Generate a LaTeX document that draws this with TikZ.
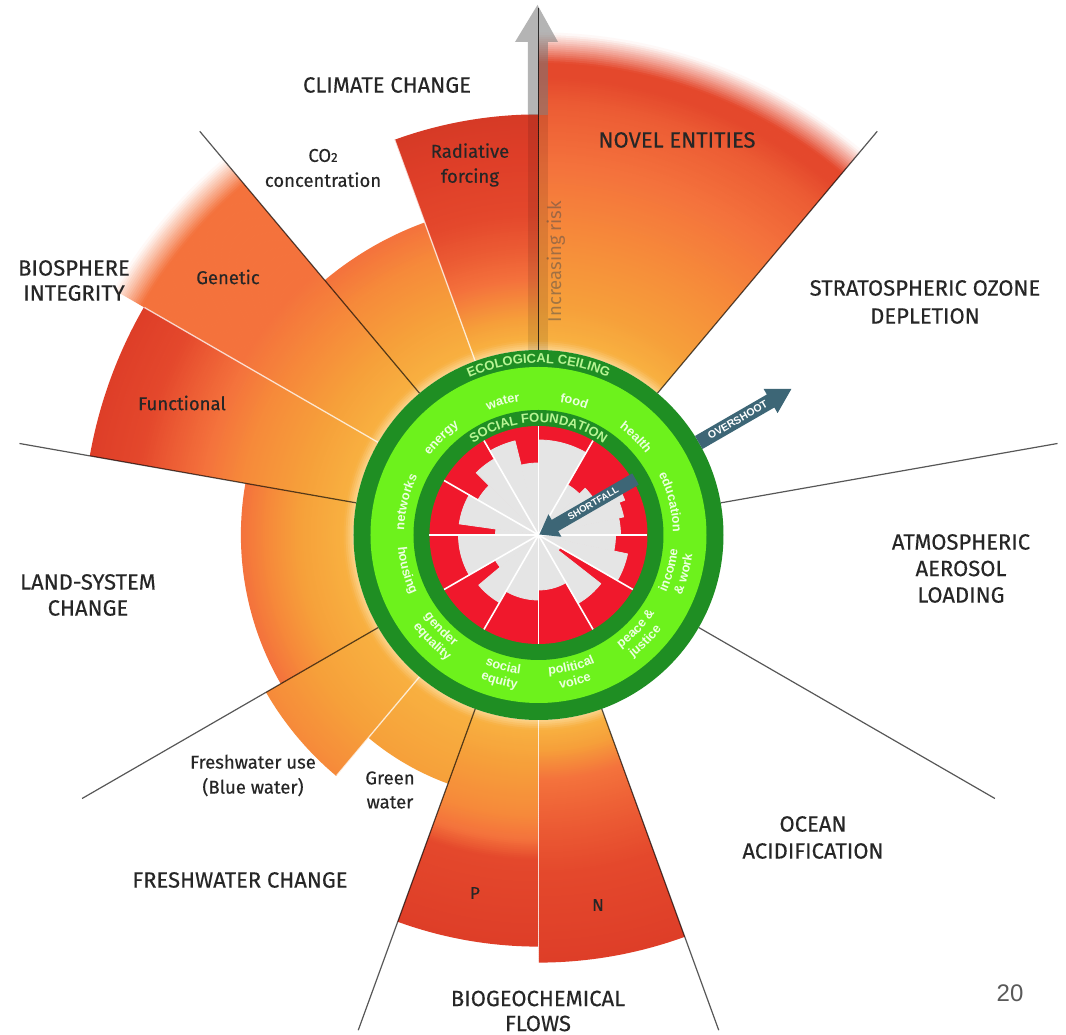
\documentclass[tikz,border=0pt]{standalone}
\usepackage{fontspec}
\setmainfont{Fira Sans}[FakeBold=0.35]
\newfontfamily\risktxt{Fira Sans}
\newfontfamily\libsans{Liberation Sans}
\usetikzlibrary{decorations.text}

\definecolor{cH}{HTML}{FCD38C}
\definecolor{cY}{HTML}{F8B040}
\definecolor{cA}{HTML}{F6A03A}
\definecolor{cB}{HTML}{F68A3A}
\definecolor{cC}{HTML}{F4723C}
\definecolor{cD}{HTML}{EC5C34}
\definecolor{cE}{HTML}{E4482C}
\definecolor{cF}{HTML}{DE3E28}
\definecolor{cG}{HTML}{D63A26}
\definecolor{dkgreen}{HTML}{1F8E23}
\definecolor{ltgreen}{HTML}{6DF21C}
\definecolor{sfred}{HTML}{F0182C}
\definecolor{sfgray}{HTML}{E5E5E5}
\definecolor{slate}{HTML}{3D6676}
\definecolor{txt}{HTML}{262626}
\definecolor{ringtxt}{HTML}{B8F594}
\definecolor{cattxt}{HTML}{ECFFE0}

% one gradient segment of a wedge: angles #1-#2, radii #3-#4, colours #5 -> #6
\newcommand{\gradseg}[6]{%
  \pgfmathtruncatemacro{\nsteps}{max(1,round((#4-#3)/2))}%
  \foreach \i in {1,...,\nsteps}{%
    \pgfmathsetmacro{\ra}{#3+(#4-#3)*(\i-1)/\nsteps}%
    \pgfmathsetmacro{\rb}{#3+(#4-#3)*\i/\nsteps+0.6}%
    \pgfmathtruncatemacro{\pc}{100*(\i-0.5)/\nsteps}%
    \fill[fill=#6!\pc!#5] (#1:\ra) arc[start angle=#1, end angle=#2, radius=\ra*1pt]
      -- (#2:\rb) arc[start angle=#2, end angle=#1, radius=\rb*1pt] -- cycle;
  }}
% a whole wedge from a list of radius/colour stops
\newcommand{\wedgegrad}[3]{%
  \foreach \rr/\cc [remember=\rr as \rprev (initially 0), remember=\cc as \cprev (initially cY)] in {#3}{%
    \ifdim\rprev pt>0pt \gradseg{#1}{#2}{\rprev}{\rr}{\cprev}{\cc}\fi
  }}

\newcommand{\ringfont}{\libsans\bfseries\fontsize{13}{13}\selectfont}
\newcommand{\catfont}{\libsans\bfseries\fontsize{12.8}{12.8}\selectfont}

\newcommand{\arctext}[6]{%
  \path[decorate, decoration={text along path, text align=center, text color=#4, text={|#5|#6}}]
    ({#1}:#3) arc[start angle={#1}, end angle={#2}, radius=#3*1pt];}
\newcommand{\toplab}[3]{\arctext{#1+45}{#1-45}{#2}{cattxt}{\catfont}{#3}}
\newcommand{\botlab}[3]{\arctext{#1-45}{#1+45}{#2}{cattxt}{\catfont}{#3}}

\tikzset{
  maindiv/.style={draw=black, draw opacity=0.66, line width=1.2pt},
  subdiv/.style={draw=white, draw opacity=0.75, line width=1.3pt},
  head/.style={font=\fontsize{22}{27}\selectfont, text=txt, align=center},
  sub/.style={font=\fontsize{18.5}{25}\selectfont, text=txt, align=center},
  arrtxt/.style={font=\libsans\bfseries\fontsize{10.5}{10.5}\selectfont, text=white}
}

\begin{document}
\begin{tikzpicture}[x=1pt,y=1pt]
\useasboundingbox[fill=white] (-538.5,-500) rectangle (527.5,535);

% ---- planetary boundary wedges (radial gradients)
\wedgegrad{50}{90}{185/cH, 195/cY, 230/cA, 300/cB, 370/cC, 430/cD, 458/cE, 472/cE, 502/white}
\wedgegrad{90}{110}{185/cH, 195/cY, 215/cA, 255/cC, 285/cD, 320/cE, 380/cF, 420/cG}
\wedgegrad{110}{130}{185/cH, 195/cY, 240/cA, 295/cB, 332/cC}
\wedgegrad{130}{150}{185/cH, 195/cY, 240/cA, 290/cB, 345/cC, 458/cC, 490/white}
\wedgegrad{150}{170}{185/cH, 195/cY, 240/cA, 300/cB, 340/cC, 375/cD, 405/cE, 455/cF}
\wedgegrad{170}{210}{185/cH, 195/cY, 240/cA, 270/cB, 297/cC}
\wedgegrad{210}{230}{185/cH, 195/cY, 260/cA, 314/cB}
\wedgegrad{230}{250}{185/cH, 195/cY, 264/cA}
\wedgegrad{250}{270}{185/cH, 195/cY, 230/cA, 280/cB, 305/cC, 325/cE, 411/cF}
\wedgegrad{270}{290}{185/cH, 195/cY, 215/cA, 245/cC, 290/cD, 340/cE, 427/cF}

% ---- sub-dividers
\foreach \a/\r in {110/420, 150/455, 230/314, 270/430}
  \draw[subdiv] (\a:185) -- (\a:\r);

% ---- main dividers
\foreach \a in {50,10,-30,-70,-110,-150,170,130}
  \draw[maindiv] (\a:185) -- (\a:527);

% ---- increasing risk arrow
\fill[black, opacity=0.10] (-10.5,185) rectangle (9.5,420);
\fill[black!53, opacity=0.55] (-10.5,420) -- (-10.5,493) -- (-23.5,493) -- (-1,530) -- (19.5,493) -- (9.5,493) -- (9.5,420) -- cycle;
\draw[black, draw opacity=0.75, line width=1.8pt] (0,185) -- (0,527);
\node[rotate=90, font=\risktxt\fontsize{18.5}{18.5}\selectfont, text=black!70, text opacity=0.5] (risk) at (17.5,273.5) {Increasing risk};

% ---- doughnut rings
\fill[dkgreen] (0,0) circle[radius=185pt];
\fill[ltgreen] (0,0) circle[radius=168pt];
\fill[dkgreen] (0,0) circle[radius=125pt];
\fill[sfred] (0,0) circle[radius=109pt];
\foreach \a/\b/\r in {90/104/72, 104/120/97, 60/90/95, 45/60/58, 30/45/66, 22/30/93, 12/22/87, 0/12/82,
  -12/0/77, -30/-12/91, -38/-30/25, -60/-38/79, -90/-60/55, -120/-90/65, -140/-120/78, -150/-140/50,
  -180/-150/80, 172/180/43, 150/172/80, 135/150/70, 120/135/88}
  \filldraw[fill=sfgray, draw=sfgray, line width=0.8pt, line join=round] (0,0) -- (\a:\r) arc[start angle=\a, end angle=\b, radius=\r*1pt] -- cycle;
\foreach \a in {0,30,...,330}
  \draw[white, line width=1.6pt] (0,0) -- (\a:109);

% ---- ring texts
\arctext{150}{30}{172}{ringtxt}{\ringfont}{ECOLOGICAL CEILING}
\arctext{148}{32}{112.5}{ringtxt}{\ringfont}{SOCIAL FOUNDATION}

\toplab{105}{134.5}{water}
\toplab{75}{134.5}{food}
\toplab{45}{134.5}{health}
\toplab{14}{134.5}{education}
\toplab{135}{134.5}{energy}
\toplab{166}{134.5}{networks}
\botlab{-15}{140}{income}
\botlab{-15}{155}{{\&} work}
\botlab{-44}{140}{peace {\&}}
\botlab{-45}{155}{justice}
\botlab{-76}{140}{political}
\botlab{-76}{155}{voice}
\botlab{-105}{140}{social}
\botlab{-105}{155}{equity}
\botlab{-136}{140}{gender}
\botlab{-135}{155}{equality}
\botlab{-165}{141}{housing}

% ---- overshoot / shortfall arrows
\begin{scope}[rotate=30]
  \fill[slate] (185,-7.5) -- (268,-7.5) -- (268,-14) -- (292,0) -- (268,14) -- (268,7.5) -- (185,7.5) -- cycle;
  \node[arrtxt, rotate=30] (over) at (230,0) {OVERSHOOT};
  \fill[slate] (112,-6.5) -- (19,-6.5) -- (19,-13) -- (1,0) -- (19,13) -- (19,6.5) -- (112,6.5) -- cycle;
  \node[arrtxt, rotate=30, font=\libsans\bfseries\fontsize{9.5}{9.5}\selectfont] (short) at (63,0) {SHORTFALL};
\end{scope}

% ---- labels
\node[head] (cc) at (-151.5,450) {CLIMATE CHANGE};
\node[sub] (co2) at (-215.5,367) {CO{\fontsize{13}{13}\selectfont 2}\\concentration};
\node[sub] (rad) at (-68.5,370) {Radiative\\forcing};
\node[head] (ne) at (138.5,395) {NOVEL ENTITIES};
\node[head, font=\fontsize{22}{28}\selectfont] (oz) at (386.5,233) {STRATOSPHERIC OZONE\\DEPLETION};
\node[head, font=\fontsize{22}{26.5}\selectfont] (aer) at (422.5,-33.5) {ATMOSPHERIC\\AEROSOL\\LOADING};
\node[head] (oa) at (274.5,-302.5) {OCEAN\\ACIDIFICATION};
\node[head, font=\fontsize{22}{25}\selectfont] (bgc) at (-0.5,-476) {BIOGEOCHEMICAL\\FLOWS};
\node[head] (fw) at (-298.5,-345) {FRESHWATER CHANGE};
\node[sub] (blue) at (-285.5,-240.5) {Freshwater use\\(Blue water)};
\node[sub, font=\fontsize{18.5}{24}\selectfont] (green) at (-148.5,-255) {Green\\water};
\node[head, font=\fontsize{22}{26}\selectfont] (land) at (-450.5,-60) {LAND-SYSTEM\\CHANGE};
\node[head, font=\fontsize{22}{25}\selectfont] (bio) at (-464.5,254.5) {BIOSPHERE\\INTEGRITY};
\node[sub] (gen) at (-310.5,258) {Genetic};
\node[sub] (fun) at (-356.5,132) {Functional};
\node[sub, font=\fontsize{17}{17}\selectfont] (p) at (-63.5,-358) {P};
\node[sub, font=\fontsize{17}{17}\selectfont] (n) at (59.5,-370) {N};
\node[font=\libsans\fontsize{24}{24}\selectfont, text=black!65] (pg) at (471.5,-458) {20};
\end{tikzpicture}
\end{document}
